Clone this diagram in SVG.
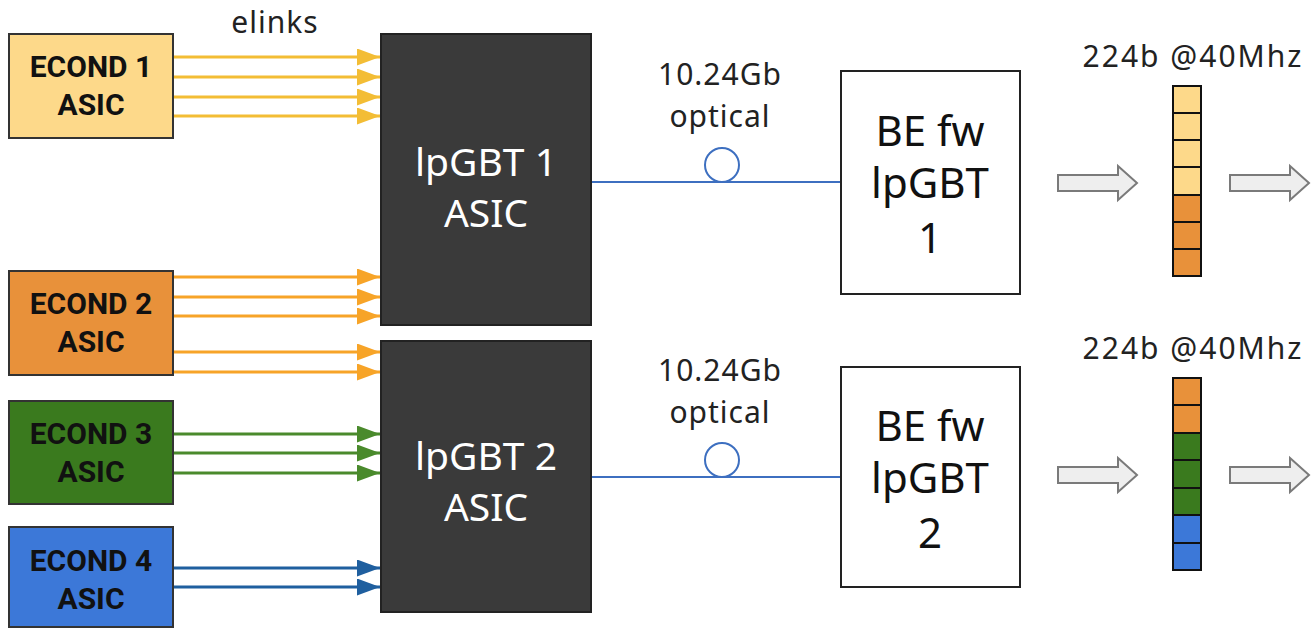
<svg xmlns="http://www.w3.org/2000/svg" width="1311" height="630" viewBox="0 0 1311 630">
<defs>
<style>
.econd{stroke:#333;stroke-width:2}
.elab{font-family:Roboto,"Liberation Sans",sans-serif;font-weight:bold;font-size:30px;fill:#111;text-anchor:middle}
.lp{fill:#3a3a3a;stroke:#222;stroke-width:2}
.lplab{font-family:"Noto Sans","Open Sans",sans-serif;font-size:39px;fill:#fff;text-anchor:middle}
.be{fill:#fff;stroke:#222;stroke-width:2}
.belab{font-family:"Noto Sans","Open Sans",sans-serif;font-size:42px;fill:#111;text-anchor:middle}
.lbl{font-family:"Noto Sans","Open Sans",sans-serif;font-size:30px;letter-spacing:1px;fill:#222;text-anchor:middle}
.lblw{font-family:"Noto Sans","Open Sans",sans-serif;font-size:30px;letter-spacing:2px;fill:#222;text-anchor:middle}
.fib{stroke:#3d6fc0;stroke-width:2;fill:none}
.cell{stroke:#111;stroke-width:2}
.harrow{fill:#eeeeee;stroke:#7a7a7a;stroke-width:2}
.y{stroke:#f3bd35;stroke-width:3}
.o{stroke:#f7a428;stroke-width:3}
.g{stroke:#4a8a2c;stroke-width:3}
.b{stroke:#1f5f9f;stroke-width:3}
</style>
<marker id="my" viewBox="0 0 10 10" refX="10" refY="5" markerWidth="23" markerHeight="17" markerUnits="userSpaceOnUse" orient="auto" preserveAspectRatio="none"><path d="M0,0L10,5L0,10z" fill="#f3bd35"/></marker>
<marker id="mo" viewBox="0 0 10 10" refX="10" refY="5" markerWidth="23" markerHeight="17" markerUnits="userSpaceOnUse" orient="auto" preserveAspectRatio="none"><path d="M0,0L10,5L0,10z" fill="#f7a428"/></marker>
<marker id="mg" viewBox="0 0 10 10" refX="10" refY="5" markerWidth="23" markerHeight="17" markerUnits="userSpaceOnUse" orient="auto" preserveAspectRatio="none"><path d="M0,0L10,5L0,10z" fill="#4a8a2c"/></marker>
<marker id="mb" viewBox="0 0 10 10" refX="10" refY="5" markerWidth="23" markerHeight="17" markerUnits="userSpaceOnUse" orient="auto" preserveAspectRatio="none"><path d="M0,0L10,5L0,10z" fill="#1f5f9f"/></marker>
</defs>
<rect width="1311" height="630" fill="#fff"/>

<text class="lbl" x="275" y="33">elinks</text>

<g id="econd1"><rect class="econd" x="9" y="34" width="164" height="104" fill="#fdd98a"/><text class="elab" x="91" y="77">ECOND 1</text><text class="elab" x="91" y="115">ASIC</text></g>
<g id="econd2"><rect class="econd" x="9" y="271" width="164" height="104" fill="#e8913a"/><text class="elab" x="91" y="314">ECOND 2</text><text class="elab" x="91" y="352">ASIC</text></g>
<g id="econd3"><rect class="econd" x="9" y="401" width="164" height="103" fill="#3a7a1e"/><text class="elab" x="91" y="444">ECOND 3</text><text class="elab" x="91" y="482">ASIC</text></g>
<g id="econd4"><rect class="econd" x="9" y="527" width="164" height="100" fill="#3c78d8"/><text class="elab" x="91" y="571">ECOND 4</text><text class="elab" x="91" y="609">ASIC</text></g>

<g id="lpgbt1"><rect class="lp" x="381" y="34" width="210" height="291"/><text class="lplab" x="486" y="176">lpGBT 1</text><text class="lplab" x="486" y="227">ASIC</text></g>
<g id="lpgbt2"><rect class="lp" x="381" y="341" width="210" height="271"/><text class="lplab" x="486" y="470">lpGBT 2</text><text class="lplab" x="486" y="521">ASIC</text></g>

<g id="be1"><rect class="be" x="841" y="71" width="179" height="223"/><text class="belab" x="930" y="146">BE fw</text><text class="belab" x="930" y="198">lpGBT</text><text class="belab" x="930" y="253">1</text></g>
<g id="be2"><rect class="be" x="841" y="367" width="179" height="220"/><text class="belab" x="930" y="441">BE fw</text><text class="belab" x="930" y="493">lpGBT</text><text class="belab" x="930" y="548">2</text></g>

<g id="connectors">
<line class="y" x1="174" y1="57" x2="380" y2="57" marker-end="url(#my)"/>
<line class="y" x1="174" y1="77" x2="380" y2="77" marker-end="url(#my)"/>
<line class="y" x1="174" y1="97" x2="380" y2="97" marker-end="url(#my)"/>
<line class="y" x1="174" y1="116" x2="380" y2="116" marker-end="url(#my)"/>
<line class="o" x1="174" y1="277" x2="380" y2="277" marker-end="url(#mo)"/>
<line class="o" x1="174" y1="297" x2="380" y2="297" marker-end="url(#mo)"/>
<line class="o" x1="174" y1="316" x2="380" y2="316" marker-end="url(#mo)"/>
<line class="o" x1="174" y1="352" x2="380" y2="352" marker-end="url(#mo)"/>
<line class="o" x1="174" y1="372" x2="380" y2="372" marker-end="url(#mo)"/>
<line class="g" x1="174" y1="434" x2="380" y2="434" marker-end="url(#mg)"/>
<line class="g" x1="174" y1="453" x2="380" y2="453" marker-end="url(#mg)"/>
<line class="g" x1="174" y1="473" x2="380" y2="473" marker-end="url(#mg)"/>
<line class="b" x1="174" y1="568" x2="380" y2="568" marker-end="url(#mb)"/>
<line class="b" x1="174" y1="587" x2="380" y2="587" marker-end="url(#mb)"/>
<line class="fib" x1="592" y1="182" x2="840" y2="182"/>
<line class="fib" x1="592" y1="477" x2="840" y2="477"/>
</g>

<g id="optical1"><text class="lbl" x="720" y="85">10.24Gb</text><text class="lbl" x="720" y="127">optical</text><circle class="fib" cx="722" cy="165" r="17" fill="#fff"/></g>
<g id="optical2"><text class="lbl" x="720" y="381">10.24Gb</text><text class="lbl" x="720" y="423">optical</text><circle class="fib" cx="722" cy="460" r="17" fill="#fff"/></g>

<g id="harrows">
<path class="harrow" d="M1058,175H1118V166L1137,183L1118,200V191H1058Z"/>
<path class="harrow" d="M1230,175H1290V166L1309,183L1290,200V191H1230Z"/>
<path class="harrow" d="M1058,467H1118V458L1137,475L1118,492V483H1058Z"/>
<path class="harrow" d="M1230,467H1290V458L1309,475L1290,492V483H1230Z"/>
</g>

<g id="col1">
<text class="lblw" x="1193" y="67">224b @40Mhz</text>
<rect class="cell" x="1173" y="86" width="28" height="27" fill="#fdd98a"/>
<rect class="cell" x="1173" y="113" width="28" height="27" fill="#fdd98a"/>
<rect class="cell" x="1173" y="140" width="28" height="27" fill="#fdd98a"/>
<rect class="cell" x="1173" y="167" width="28" height="28" fill="#fdd98a"/>
<rect class="cell" x="1173" y="195" width="28" height="27" fill="#e8913a"/>
<rect class="cell" x="1173" y="222" width="28" height="27" fill="#e8913a"/>
<rect class="cell" x="1173" y="249" width="28" height="27" fill="#e8913a"/>
</g>
<g id="col2">
<text class="lblw" x="1193" y="359">224b @40Mhz</text>
<rect class="cell" x="1173" y="378" width="28" height="27" fill="#e8913a"/>
<rect class="cell" x="1173" y="405" width="28" height="28" fill="#e8913a"/>
<rect class="cell" x="1173" y="433" width="28" height="27" fill="#3a7a1e"/>
<rect class="cell" x="1173" y="460" width="28" height="28" fill="#3a7a1e"/>
<rect class="cell" x="1173" y="488" width="28" height="27" fill="#3a7a1e"/>
<rect class="cell" x="1173" y="515" width="28" height="28" fill="#3c78d8"/>
<rect class="cell" x="1173" y="543" width="28" height="27" fill="#3c78d8"/>
</g>
</svg>
